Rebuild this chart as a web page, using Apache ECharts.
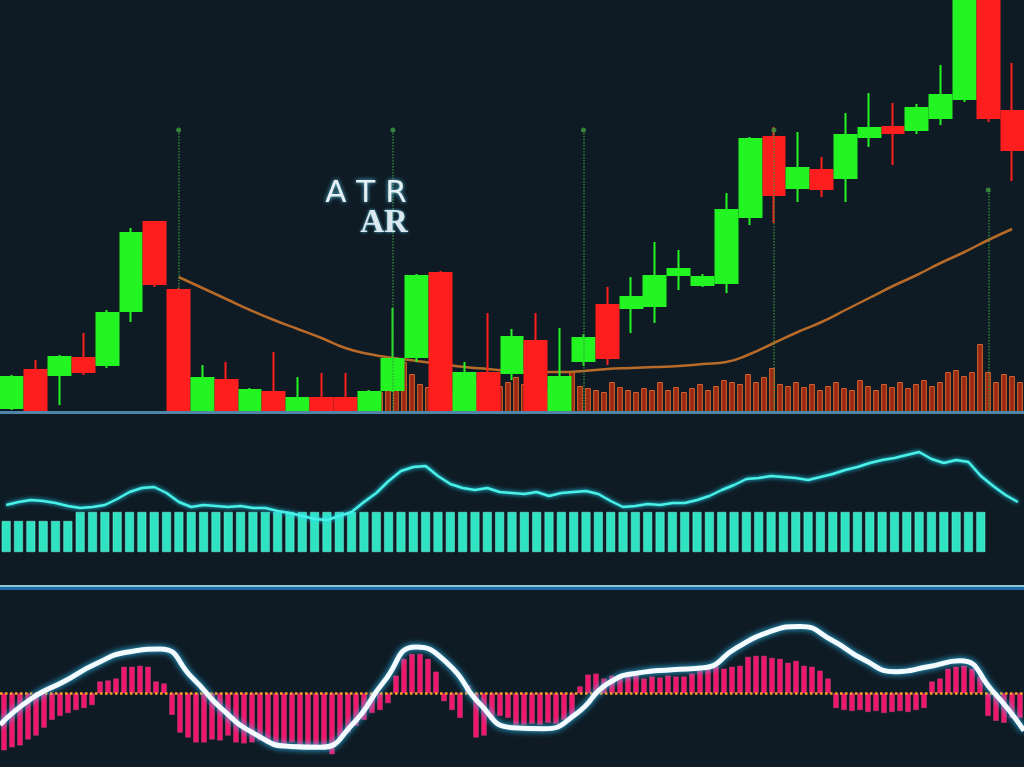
<!DOCTYPE html>
<html><head><meta charset="utf-8">
<script src="https://cdn.jsdelivr.net/npm/echarts@6/dist/echarts.min.js"></script>
<style>html,body{margin:0;padding:0;background:#0e1b25;}#c{width:1024px;height:767px;}</style>
</head><body><div id="c"></div>
<script>
// ---- price panel (candles) ----
const candleLabels = Array.from({length: 43}, (_, i) => 'D' + (i + 1));
const candleOpen  = [101,110.5,109.25,113.5,111.75,125.25,147.5,130.5,100,108,100,105,100,103.5,103.5,100,105.5,113.75,134.75,100,109.75,109.75,117.75,100,112.75,126.75,126,126.5,134.25,131.75,132.25,148.75,168.75,156,160.5,158.5,168.75,171.25,170.5,173.5,178.25,206,175.25];
const candleClose = [108.75,100,113.75,110,124.75,144.75,132,100,108.5,100,105.5,100,103.5,100,100,105,113.25,134,100,109.75,100,118.75,100,108.75,118.5,113.5,128.75,134,135.75,133.75,150.5,168.25,154.25,161,155.75,169.25,171,169.75,176,179.25,206,173.5,165.5];
const candleLow   = [100.5,100,101.75,109.25,111,122.5,131.25,100,100,100,100,100,100,100,100,100,105,112.5,100,100,100,108,100,100,111.5,111.75,119.75,122.25,130.5,131.25,129.75,146.75,147.25,152.5,153.75,152.5,166.25,161.75,169.5,171.75,177.5,172.5,157.75];
const candleHigh  = [109.25,113,114.25,119.75,125.5,146,147.75,131,111.75,112.5,106,115,108.75,109.75,109.75,105.5,126,134.5,135.25,112.5,124.75,120.75,124.75,121,119.5,131.25,133.75,142.5,140.5,134.5,154.75,168.75,171.25,170,163.75,174.75,179.75,177.25,177,186.75,208,208,187.25];
const maValues = ['-','-','-','-','-','-','-',133.75,131,128.25,125.5,123,120.75,118.5,116,114.5,113.5,112.75,112,111.25,110.75,110.25,110,110,110.25,110.75,111,111.25,111.5,112,112.5,114.5,117.25,120,122.5,125.5,128.5,131.5,134.25,137.25,140,143,145.75];
// signal markers (category index, top price, bottom price)
const signalIdx = [7,16,24,32,41];
const signalTop = [170.5,170.5,170.5,170.5,155.5];
const signalBottom = [130.5,100,100,100,100];

// ---- volume (fine slots) ----
const volLabels = Array.from({length: 128}, (_, i) => 'V' + (i + 1));
const volumeValues = [20,28,35,50,38,28,25,22,20,18,22,25,30,28,32,26,30,35,28,25,30,22,18,30,40,26,24,22,20,30,25,22,20,24,22,30,22,25,20,24,28,22,26,32,30,28,38,30,35,44,28,26,30,25,28,22,26,30,24,22,32,26,22,28,25,30,24,28,32,26,30,40,42,36,40,68,40,30,38,36,30];
const volumeSeries = Array(128 - volumeValues.length).fill('-').concat(volumeValues);

// ---- ATR panel ----
const atrLabels = Array.from({length: 83}, (_, i) => 'A' + (i + 1));
const atrLine = [0.94,1.00,1.04,1.02,0.98,0.92,0.88,0.90,0.94,1.06,1.20,1.28,1.30,1.18,1.00,0.90,0.94,0.92,0.90,0.92,0.88,0.88,0.82,0.78,0.72,0.66,0.64,0.72,0.80,1.00,1.18,1.42,1.62,1.70,1.72,1.52,1.36,1.28,1.24,1.28,1.20,1.18,1.16,1.20,1.12,1.18,1.20,1.22,1.16,1.02,0.90,0.92,0.96,0.94,0.98,0.98,1.04,1.12,1.24,1.34,1.46,1.48,1.52,1.50,1.48,1.44,1.50,1.56,1.64,1.70,1.78,1.84,1.88,1.94,2.00,1.86,1.78,1.84,1.80,1.52,1.32,1.14,1.00];
const atrBars = [0.62,0.62,0.62,0.62,0.62,0.62,0.8,0.8,0.8,0.8,0.8,0.8,0.8,0.8,0.8,0.8,0.8,0.8,0.8,0.8,0.8,0.8,0.8,0.8,0.8,0.8,0.8,0.8,0.8,0.8,0.8,0.8,0.8,0.8,0.8,0.8,0.8,0.8,0.8,0.8,0.8,0.8,0.8,0.8,0.8,0.8,0.8,0.8,0.8,0.8,0.8,0.8,0.8,0.8,0.8,0.8,0.8,0.8,0.8,0.8,0.8,0.8,0.8,0.8,0.8,0.8,0.8,0.8,0.8,0.8,0.8,0.8,0.8,0.8,0.8,0.8,0.8,0.8,0.8,0.8,'-','-','-'];

// ---- oscillator panel ----
const oscLabels = Array.from({length: 128}, (_, i) => 'O' + (i + 1));
const oscHist = [-2.9,-2.75,-2.65,-2.35,-2.15,-1.75,-1.35,-1.15,-1.0,-0.85,-0.75,-0.6,0.6,0.65,0.75,1.35,1.35,1.4,1.35,0.6,0.5,-1.1,-2.0,-2.25,-2.5,-2.5,-2.35,-2.4,-2.15,-2.5,-2.55,-2.5,-2.4,-2.55,-2.5,-2.6,-2.5,-2.65,-2.75,-2.65,-2.85,-3.1,-2.25,-2.0,-1.65,-1.35,-1.0,-0.85,-0.5,0.9,1.75,2.0,2.0,1.75,1.1,-0.4,-0.85,-1.25,0.4,-2.25,-2.15,-1.35,-1.15,-1.25,-1.6,-1.6,-1.55,-1.6,-1.5,-1.55,-1.35,-1.25,0.35,0.95,1.0,0.75,0.9,0.75,0.85,0.9,0.75,0.85,0.8,0.9,0.85,0.85,1.0,1.15,1.25,1.35,1.25,1.35,1.4,1.85,1.9,1.9,1.8,1.75,1.55,1.65,1.4,1.35,1.15,0.75,-0.75,-0.85,-0.9,-0.85,-0.95,-0.9,-1.0,-0.95,-0.9,-0.95,-0.85,-0.75,0.6,0.75,1.25,1.35,1.4,1.25,0.85,-1.15,-1.4,-1.5,-1.25,-1.25];
const waveLabels = Array.from({length: 33}, (_, i) => 'W' + (i + 1));
const waveLine = [-1.6,-0.25,0.6,1.5,2.1,2.25,0.8,-0.9,-2.1,-2.7,-2.75,-1.6,0.6,2.35,1.5,-0.55,-1.75,-1.8,-1.05,0.5,1.05,1.2,1.3,2.3,3.1,3.4,2.7,1.7,1.1,1.35,1.65,0.15,-1.9];

const candleData = candleOpen.map((o, i) => [o, candleClose[i], candleLow[i], candleHigh[i]]);
const signalLines = signalIdx.map((c, k) => [
  {coord: [candleLabels[c], signalTop[k]]},
  {coord: [candleLabels[c], signalBottom[k]]}
]);

const chart = echarts.init(document.getElementById('c'));
chart.setOption({
  animation: false,
  backgroundColor: '#0e1b25',
  grid: [
    {left: 0, right: 0, top: 0, height: 412},
    {left: 0, right: 0, top: 415, height: 137},
    {left: 0, right: 0, top: 595, height: 175}
  ],
  xAxis: [
    {type: 'category', gridIndex: 0, data: candleLabels, show: false},
    {type: 'category', gridIndex: 0, data: volLabels, show: false},
    {type: 'category', gridIndex: 1, data: atrLabels, show: false},
    {type: 'category', gridIndex: 2, data: oscLabels, show: false},
    {type: 'category', gridIndex: 2, data: waveLabels, show: false, boundaryGap: false}
  ],
  yAxis: [
    {type: 'value', gridIndex: 0, min: 100, max: 203, show: false},
    {type: 'value', gridIndex: 0, min: 0, max: 412, show: false},
    {type: 'value', gridIndex: 1, min: 0, max: 2.74, show: false},
    {type: 'value', gridIndex: 2, min: -3.75, max: 5, show: false}
  ],
  series: [
    {type: 'bar', xAxisIndex: 1, yAxisIndex: 1, data: volumeSeries, barWidth: '72%', z: 1,
     itemStyle: {color: '#9a2a14', borderColor: '#d0622a', borderWidth: 1}},
    {type: 'line', xAxisIndex: 0, yAxisIndex: 0, data: maValues, smooth: true, symbol: 'none', z: 2,
     lineStyle: {color: '#b86a28', width: 2.5}},
    {type: 'candlestick', xAxisIndex: 0, yAxisIndex: 0, data: candleData, barWidth: '94%', z: 3, clip: true,
     itemStyle: {color: '#22f522', color0: '#ff1e1e', borderColor: '#22f522', borderColor0: '#ff1e1e', borderWidth: 2},
     markLine: {silent: true, symbol: ['circle', 'none'], symbolSize: 5, label: {show: false},
       itemStyle: {color: '#a8d8f0'},
       lineStyle: {type: 'dotted', color: '#3f9a3f', width: 1.5, opacity: 0.8},
       data: signalLines}},
    {type: 'bar', xAxisIndex: 2, yAxisIndex: 2, data: atrBars, barWidth: '72%', z: 1,
     itemStyle: {color: '#2fe2c2', borderColor: '#7ff4df', borderWidth: 0.5}},
    {type: 'line', xAxisIndex: 2, yAxisIndex: 2, data: atrLine, symbol: 'none', z: 2,
     lineStyle: {color: '#4af0e6', width: 2.5, shadowColor: '#20e0ff', shadowBlur: 4}},
    {type: 'bar', xAxisIndex: 3, yAxisIndex: 3, data: oscHist, barWidth: '68%', z: 1,
     itemStyle: {color: '#f0186c', borderColor: '#b8407a', borderWidth: 0.5}},
    {type: 'line', xAxisIndex: 4, yAxisIndex: 3, data: waveLine, smooth: 0.55, symbol: 'none', z: 3,
     lineStyle: {color: '#f4fbff', width: 5, shadowColor: '#30c8ff', shadowBlur: 6},
     markLine: {silent: true, symbol: 'none', label: {show: false}, z: 2,
       lineStyle: {type: 'dotted', color: '#ffa01c', width: 2.5}, data: [{yAxis: 0}]}}
  ],
  graphic: [
    {type: 'rect', shape: {x: 0, y: 411, width: 1024, height: 3}, style: {fill: '#4f86a8'}, z: 10},
    {type: 'rect', shape: {x: 0, y: 585, width: 1024, height: 2}, style: {fill: '#8fc4d4'}, z: 10},
    {type: 'rect', shape: {x: 0, y: 587, width: 1024, height: 3}, style: {fill: '#1e6aa8'}, z: 10},
    {type: 'text', x: 366, y: 194, z: 10, style: {text: 'A T R', font: '31px "DejaVu Sans"', fill: '#e6f0f5',
      align: 'center', verticalAlign: 'middle', textShadowColor: '#5ac8e8', textShadowBlur: 4}},
    {type: 'text', x: 384, y: 223, z: 10, style: {text: 'AR', font: 'bold 33px "Liberation Serif"', fill: '#dbe8f0',
      align: 'center', verticalAlign: 'middle', textShadowColor: '#5ac8e8', textShadowBlur: 3}}
  ]
});
</script></body></html>
